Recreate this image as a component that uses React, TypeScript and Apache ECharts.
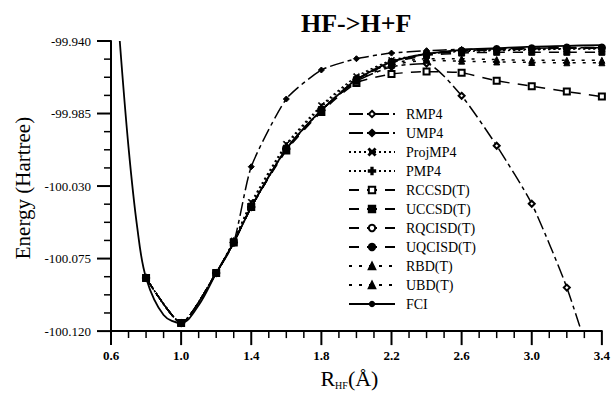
import React, { useEffect, useRef } from "react";
import * as echarts from "echarts";

// Bond length grid (Å) for the approximate methods
const R = [0.8, 1.0, 1.2, 1.3, 1.4, 1.6, 1.8, 2.0, 2.2, 2.4, 2.6, 2.8, 3.0, 3.2, 3.4];

const rmp4 = [-100.087, -100.115, -100.084, -100.065, -100.043, -100.007, -99.983, -99.965, -99.956, -99.954, -99.974, -100.005, -100.041, -100.093, -100.16];
const ump4 = [-100.087, -100.115, -100.084, -100.065, -100.018, -99.976, -99.958, -99.951, -99.9475, -99.946, -99.9452, -99.9448, -99.9445, -99.9443, -99.9442];
const projmp4 = [-100.087, -100.115, -100.084, -100.064, -100.04, -100.004, -99.98, -99.962, -99.952, -99.948, -99.9465, -99.946, -99.9455, -99.945, -99.945];
const pmp4 = [-100.087, -100.115, -100.084, -100.064, -100.041, -100.005, -99.981, -99.963, -99.9525, -99.948, -99.946, -99.9455, -99.945, -99.9448, -99.9445];
const rccsdt = [-100.087, -100.115, -100.084, -100.065, -100.043, -100.008, -99.984, -99.966, -99.9605, -99.959, -99.9597, -99.9647, -99.968, -99.9714, -99.9745];
const uccsdt = [-100.087, -100.115, -100.084, -100.065, -100.043, -100.007, -99.983, -99.964, -99.9535, -99.949, -99.9475, -99.947, -99.947, -99.947, -99.947];
const rqcisdt = [-100.087, -100.115, -100.084, -100.065, -100.043, -100.007, -99.983, -99.964, -99.953, -99.948, -99.946, -99.945, -99.9445, -99.944, -99.944];
const uqcisdt = [-100.087, -100.115, -100.084, -100.065, -100.043, -100.007, -99.983, -99.964, -99.9535, -99.9485, -99.9465, -99.9455, -99.945, -99.9445, -99.9445];
const rbdt = [-100.087, -100.115, -100.084, -100.065, -100.043, -100.007, -99.983, -99.965, -99.955, -99.952, -99.9525, -99.953, -99.9533, -99.9535, -99.9535];
const ubdt = [-100.087, -100.115, -100.084, -100.065, -100.043, -100.007, -99.983, -99.964, -99.954, -99.951, -99.951, -99.9515, -99.952, -99.952, -99.952];

// Full CI curve
const fciR = [0.65, 0.7, 0.75, 0.8, 0.9, 1.0, 1.1, 1.2, 1.3, 1.4, 1.5, 1.6, 1.7, 1.8, 1.9, 2.0, 2.2, 2.4, 2.6, 2.8, 3.0, 3.2, 3.4];
const fci = [-99.94, -100.006, -100.056, -100.087, -100.11, -100.115, -100.104, -100.084, -100.065, -100.043, -100.024, -100.007, -99.994, -99.983, -99.973, -99.964, -99.953, -99.948, -99.9455, -99.9445, -99.9435, -99.943, -99.9425];

// Axis range and tick steps
const X_MIN = 0.6;
const X_MAX = 3.4;
const X_MAJOR = 0.4;
const X_MINOR = 0.1;
const Y_MIN = -100.12;
const Y_MAX = -99.94;
const Y_MAJOR = 0.045;
const Y_MINOR = 0.01125;

const SERIF = "'Liberation Serif', 'Times New Roman', serif";

const XSYM = "path://M0,1L1,0L5,4L9,0L10,1L6,5L10,9L9,10L5,6L1,10L0,9L4,5Z";
const PSYM = "path://M4,0H6V4H10V6H6V10H4V6H0V4H4Z";

type Def = { name: string; vals: number[]; symbol: string; dash: any; size?: number };

const defs: Def[] = [
  { name: "RMP4", vals: rmp4, symbol: "emptyDiamond", dash: [14, 4, 4, 4] },
  { name: "UMP4", vals: ump4, symbol: "diamond", dash: [14, 4, 4, 4] },
  { name: "ProjMP4", vals: projmp4, symbol: XSYM, dash: [2, 3] },
  { name: "PMP4", vals: pmp4, symbol: PSYM, dash: [2, 3] },
  { name: "RCCSD(T)", vals: rccsdt, symbol: "emptyRect", dash: [10, 8] },
  { name: "UCCSD(T)", vals: uccsdt, symbol: "rect", dash: [10, 8] },
  { name: "RQCISD(T)", vals: rqcisdt, symbol: "emptyCircle", dash: [10, 8] },
  { name: "UQCISD(T)", vals: uqcisdt, symbol: "circle", dash: [10, 8] },
  { name: "RBD(T)", vals: rbdt, symbol: "triangle", dash: [3, 7] },
  { name: "UBD(T)", vals: ubdt, symbol: "triangle", dash: [3, 7] },
];

const isStep = (v: number, base: number, step: number) => {
  const k = (v - base) / step;
  return Math.abs(k - Math.round(k)) < 1e-6;
};

export default function App() {
  const ref = useRef<HTMLDivElement>(null);
  useEffect(() => {
    if (!ref.current) return;
    const chart = echarts.init(ref.current, undefined, { renderer: "svg" });

    const series: any[] = defs.map((d) => ({
      name: d.name,
      type: "line",
      data: R.map((x, i) => [x, d.vals[i]]),
      symbol: d.symbol,
      symbolSize: d.size ?? 6,
      smooth: 0.2,
      itemStyle: { color: "#000", borderColor: "#000", borderWidth: 1 },
      lineStyle: { color: "#000", width: 1.5, type: d.dash },
      clip: true,
      z: 3,
    }));
    series.push({
      name: "FCI",
      type: "line",
      data: fciR.map((x, i) => [x, fci[i]]),
      symbol: "none",
      showSymbol: false,
      smooth: 0.35,
      itemStyle: { color: "#000" },
      lineStyle: { color: "#000", width: 1.8, type: "solid" },
      z: 4,
    });

    // tick marks drawn by a custom series through the axes' coordinates
    const tickData: number[][] = [];
    const nx = Math.round((X_MAX - X_MIN) / X_MINOR);
    for (let i = 0; i <= nx; i++) tickData.push([0, X_MIN + i * X_MINOR, i % 4 === 0 ? 1 : 0]);
    const ny = Math.round((Y_MAX - Y_MIN) / Y_MINOR);
    for (let i = 0; i <= ny; i++) tickData.push([1, Y_MIN + i * Y_MINOR, i % 4 === 0 ? 1 : 0]);
    series.push({
      name: "ticks",
      type: "custom",
      silent: true,
      clip: false,
      z: 10,
      data: tickData.map((t) => (t[0] === 0 ? [t[1], Y_MIN, t[2], 0] : [X_MIN, t[1], t[2], 1])),
      encode: { x: 0, y: 1 },
      renderItem: (_p: any, api: any) => {
        const p = api.coord([api.value(0), api.value(1)]);
        const major = api.value(2) === 1;
        const len = major ? 14 : 7;
        const w = major ? 2 : 1.5;
        if (api.value(3) === 0) {
          return { type: "rect", shape: { x: p[0] - w / 2, y: p[1], width: w, height: len }, style: { fill: "#000" } };
        }
        return { type: "rect", shape: { x: p[0] - len, y: p[1] - w / 2, width: len, height: w }, style: { fill: "#000" } };
      },
    });

    chart.setOption({
      animation: false,
      backgroundColor: "#fff",
      title: {
        text: "HF->H+F",
        left: 296,
        top: 5,
        textStyle: { fontFamily: SERIF, fontSize: 26, fontWeight: "bold", color: "#000" },
      },
      legend: {
        orient: "vertical",
        left: 343,
        top: 102,
        itemWidth: 46,
        itemHeight: 8,
        itemGap: 5,
        data: [...defs.map((d) => d.name), "FCI"],
        textStyle: { fontFamily: SERIF, fontSize: 14, color: "#000", padding: [0, 0, 0, 6] },
      },
      grid: { left: 111, right: 10, top: 41, bottom: 62 },
      xAxis: {
        type: "value",
        min: X_MIN,
        max: X_MAX,
        interval: 0.2,
        position: "bottom",
        name: "{a|R}{b|HF}{a|(Å)}",
        nameLocation: "middle",
        nameGap: 33,
        nameTextStyle: {
          padding: [0, 14, 0, 0],
          rich: {
            a: { fontFamily: SERIF, fontSize: 22, color: "#000" },
            b: { fontFamily: SERIF, fontSize: 10, color: "#000", padding: [14, 0, 0, 0] },
          },
        },
        axisLine: { show: true, lineStyle: { color: "#000", width: 2 } },
        axisTick: { show: false },
        axisLabel: {
          margin: 18,
          formatter: (v: number) => (isStep(v, X_MIN, X_MAJOR) ? v.toFixed(1) : ""),
          fontFamily: SERIF,
          fontSize: 13,
          fontWeight: "bold",
          color: "#000",
        },
        splitLine: { show: false },
      },
      yAxis: {
        type: "value",
        min: Y_MIN,
        max: Y_MAX,
        interval: 0.005,
        position: "left",
        name: "Energy (Hartree)",
        nameLocation: "middle",
        nameGap: 76,
        nameTextStyle: { fontFamily: SERIF, fontSize: 21, color: "#000", padding: [0, 4, 0, 0] },
        axisLine: { show: true, lineStyle: { color: "#000", width: 2 } },
        axisTick: { show: false },
        axisLabel: {
          margin: 20,
          formatter: (v: number) => (isStep(v, Y_MIN, Y_MAJOR) ? v.toFixed(3) : ""),
          fontFamily: SERIF,
          fontSize: 13,
          color: "#000",
        },
        splitLine: { show: false },
      },
      series,
    });

    return () => chart.dispose();
  }, []);
  return <div ref={ref} style={{ width: 613, height: 395, position: "absolute", left: 0, top: 0 }} />;
}
